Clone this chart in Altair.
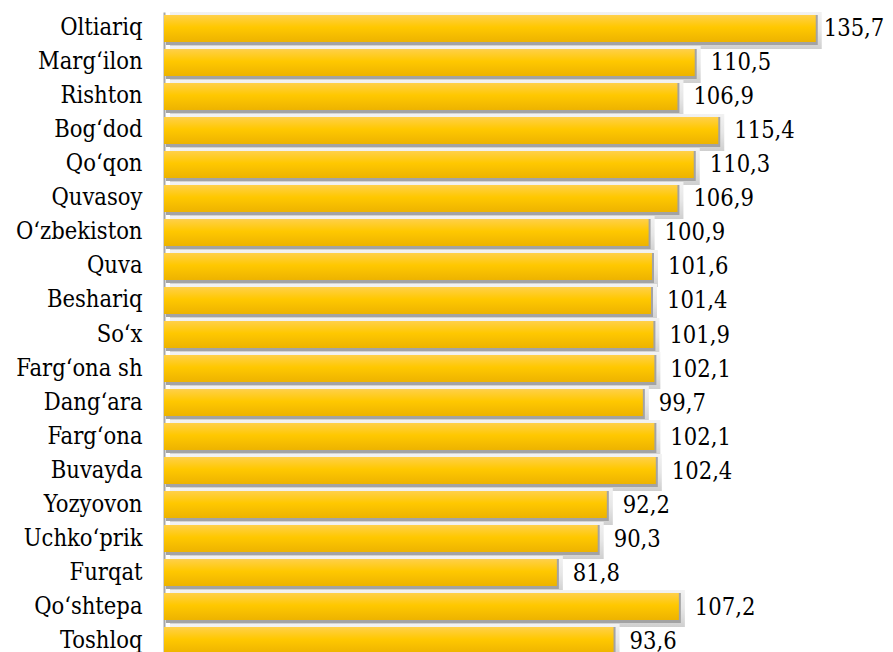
import altair as alt
import pandas as pd

regions = ["Oltiariq", "Margʻilon", "Rishton", "Bogʻdod", "Qoʻqon", "Quvasoy",
           "Oʻzbekiston", "Quva", "Beshariq", "Soʻx", "Fargʻona sh", "Dangʻara",
           "Fargʻona\u00a0", "Buvayda", "Yozyovon", "Uchkoʻprik", "Furqat",
           "Qoʻshtepa", "Toshloq"]
values = [135.7, 110.5, 106.9, 115.4, 110.3, 106.9, 100.9, 101.6, 101.4, 101.9,
          102.1, 99.7, 102.1, 102.4, 92.2, 90.3, 81.8, 107.2, 93.6]
labels = [f"{v:.1f}".replace(".", ",") for v in values]

df = pd.DataFrame({"region": regions, "value": values, "label": labels})

FONT = "DejaVu Serif Condensed, DejaVu Serif, serif"
FS = 23.5

y_enc = alt.Y(
    "region:N", sort=regions,
    scale=alt.Scale(paddingInner=0.206, paddingOuter=0.088),
    axis=alt.Axis(title=None, ticks=False, labelPadding=22, labelFont=FONT,
                  labelFontSize=FS, labelColor="black", domainColor="#A6A6A6",
                  domainWidth=2, labelLimit=0, grid=False),
)
x_enc = alt.X("value:Q", scale=alt.Scale(domain=[0, 139.5], nice=False, zero=True),
              axis=None)

base = alt.Chart(df).encode(y=y_enc, x=x_enc)

light_shadow = base.mark_bar(
    size=37, yOffset=2, xOffset=6,
    color=alt.Gradient(gradient="linear", x1=0, x2=0, y1=0, y2=1,
                       stops=[alt.GradientStop(color="#F2F2F2", offset=0),
                              alt.GradientStop(color="#E6E6E6", offset=0.5),
                              alt.GradientStop(color="#CFCFCF", offset=1)]),
)
dark_shadow = base.mark_bar(size=30, yOffset=1.5, xOffset=2, color="#A3A3A3")
bars = base.mark_bar(
    color=alt.Gradient(gradient="linear", x1=0, x2=0, y1=0, y2=1,
                       stops=[alt.GradientStop(color="#FFD04A", offset=0),
                              alt.GradientStop(color="#FFC800", offset=0.45),
                              alt.GradientStop(color="#EDB300", offset=1)]),
)
text = base.transform_filter("datum.value < 130").mark_text(
    align="left", baseline="middle", dx=16, dy=1,
    font=FONT, fontSize=FS, color="black").encode(text="label:N")
text_max = base.transform_filter("datum.value >= 130").mark_text(
    align="left", baseline="middle", dx=8, dy=1,
    font=FONT, fontSize=FS, color="black").encode(text="label:N")

chart = alt.layer(light_shadow, dark_shadow, bars, text, text_max).properties(
    width=670, height=645,
    background="white",
    autosize=alt.AutoSizeParams(type="none"),
    padding={"left": 156, "top": 4, "right": 51, "bottom": 0},
).configure_view(stroke=None)

chart.save("out.html", embed_options={"renderer": "svg", "actions": False})
